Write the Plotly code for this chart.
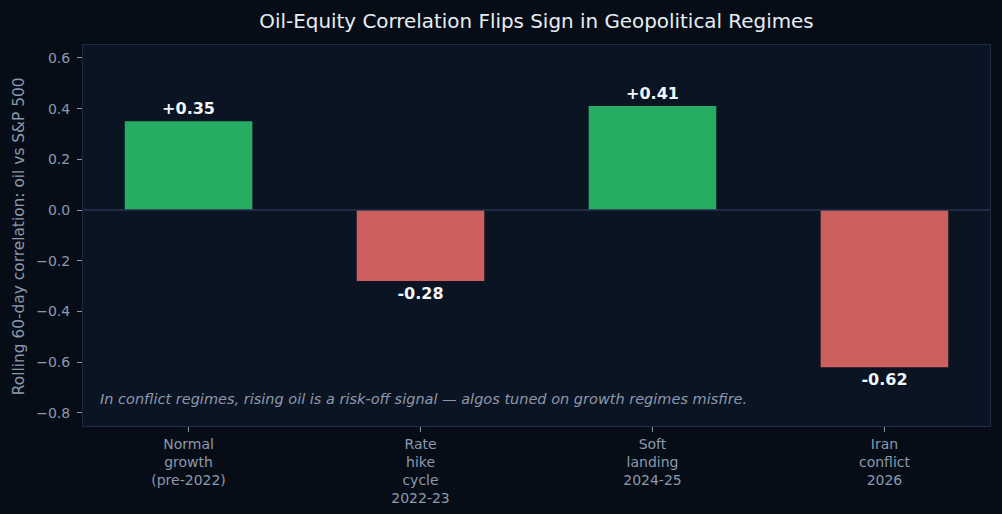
import plotly.graph_objects as go

categories = ["Normal<br>growth<br>(pre-2022)", "Rate<br>hike<br>cycle<br>2022-23",
              "Soft<br>landing<br>2024-25", "Iran<br>conflict<br>2026"]
correlations = [0.35, -0.28, 0.41, -0.62]
bar_labels = ["+0.35", "-0.28", "+0.41", "-0.62"]
ytick_vals = [0.6, 0.4, 0.2, 0.0, -0.2, -0.4, -0.6, -0.8]
ytick_text = ["0.6", "0.4", "0.2", "0.0", "\u22120.2", "\u22120.4", "\u22120.6", "\u22120.8"]

GREEN = "#27ad61"
RED = "#cd5f5f"
colors = [GREEN if v >= 0 else RED for v in correlations]

PAPER = "#070d17"
PLOT = "#0b1422"
SPINE = "#1f2c45"
TICK = "#8b99ad"
FONT = "DejaVu Sans"

fig = go.Figure()
fig.add_trace(go.Bar(
    x=list(range(len(categories))),
    y=correlations,
    width=0.55,
    marker=dict(color=colors, line=dict(width=0)),
    text=["<b>%s</b>" % t for t in bar_labels],
    textposition="outside",
    textfont=dict(family=FONT, size=16, color="#f2f5f8"),
    cliponaxis=False,
    hoverinfo="skip",
))

fig.add_hline(y=0, line=dict(color="#24324f", width=1.5))

fig.add_annotation(
    x=-0.39, y=-0.745, xref="x", yref="y", xanchor="left", yanchor="middle",
    text="<i>In conflict regimes, rising oil is a risk-off signal \u2014 algos tuned on growth regimes misfire.</i>",
    showarrow=False, font=dict(family=FONT, size=14.5, color="#8b99ad"),
)
fig.add_annotation(
    x=-0.071, y=0.497, xref="paper", yref="paper", xanchor="center", yanchor="middle",
    text="Rolling 60-day correlation: oil vs S&P 500", textangle=-90,
    showarrow=False, font=dict(family=FONT, size=15.4, color="#8b99ad"),
)

fig.update_layout(
    width=1002, height=514,
    paper_bgcolor=PAPER, plot_bgcolor=PLOT,
    margin=dict(l=83, r=12, t=45, b=88, autoexpand=False),
    showlegend=False,
    title=dict(text="Oil-Equity Correlation Flips Sign in Geopolitical Regimes",
               x=0.5, xref="paper", y=1 - 21 / 514, yref="container", yanchor="middle",
               font=dict(family=FONT, size=19.9, color="#e8edf3")),
    font=dict(family=FONT, color=TICK),
)
fig.update_xaxes(
    range=[-0.455, 3.455], tickvals=list(range(len(categories))), ticktext=categories,
    ticks="outside", ticklen=5, tickcolor=TICK, tickwidth=1,
    showline=True, linecolor=SPINE, linewidth=1, mirror=True,
    showgrid=False, zeroline=False, automargin=False,
    tickfont=dict(family=FONT, size=14, color=TICK),
)
fig.update_yaxes(
    range=[-0.852, 0.651], tickvals=ytick_vals, ticktext=ytick_text,
    ticks="outside", ticklen=5, tickcolor=TICK, tickwidth=1,
    ticklabelstandoff=4, automargin=False,
    showline=True, linecolor=SPINE, linewidth=1, mirror=True,
    showgrid=False, zeroline=False,
    tickfont=dict(family=FONT, size=14, color=TICK),
)

fig.write_html("out.html")
